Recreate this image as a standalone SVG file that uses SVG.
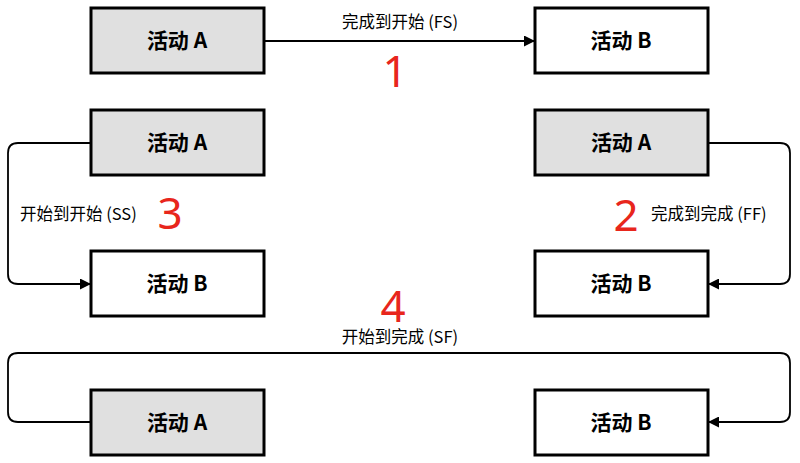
<svg xmlns="http://www.w3.org/2000/svg" width="800" height="463" viewBox="0 0 800 463">
<style>
.a{fill:#e0e0e0;stroke:#000;stroke-width:3}
.b{fill:#fff;stroke:#000;stroke-width:3}
.t{font-family:"Noto Sans CJK SC","Noto Sans",sans-serif;font-size:21px;font-weight:bold;text-anchor:middle}
.l{font-family:"Noto Sans CJK SC","Noto Sans",sans-serif;font-size:16.5px}
.n{font-family:"Noto Sans","Liberation Sans",sans-serif;font-size:44px;fill:#e8261c;text-anchor:middle}
.c{fill:none;stroke:#000;stroke-width:1.8}
</style>
<defs><marker id="m" viewBox="0 0 10 10" refX="10" refY="5" markerWidth="11" markerHeight="11" markerUnits="userSpaceOnUse" orient="auto"><path d="M0,0L10,5L0,10z"/></marker></defs>
<rect width="800" height="463" fill="#fff"/>
<g id="connectors">
<path class="c" d="M264,41H535" marker-end="url(#m)"/>
<path class="c" d="M91,143H18Q8,143 8,153V274Q8,284 18,284H91" marker-end="url(#m)"/>
<path class="c" d="M708,143H780Q790,143 790,153V274Q790,284 780,284H708" marker-end="url(#m)"/>
<path class="c" d="M91,422H18Q8,422 8,412V363Q8,353 18,353H780Q790,353 790,363V412Q790,422 780,422H708" marker-end="url(#m)"/>
</g>
<g id="n1"><rect class="a" x="91" y="8" width="173" height="65"/><text class="t" x="177" y="48">活动 A</text></g>
<g id="n2"><rect class="b" x="535" y="8" width="173" height="65"/><text class="t" x="621" y="48">活动 B</text></g>
<g id="n3"><rect class="a" x="91" y="110" width="173" height="65"/><text class="t" x="177" y="150">活动 A</text></g>
<g id="n4"><rect class="b" x="91" y="251" width="173" height="65"/><text class="t" x="177" y="291">活动 B</text></g>
<g id="n5"><rect class="a" x="535" y="110" width="173" height="65"/><text class="t" x="621" y="150">活动 A</text></g>
<g id="n6"><rect class="b" x="535" y="251" width="173" height="65"/><text class="t" x="621" y="291">活动 B</text></g>
<g id="n7"><rect class="a" x="91" y="390" width="173" height="65"/><text class="t" x="177" y="430">活动 A</text></g>
<g id="n8"><rect class="b" x="535" y="390" width="173" height="65"/><text class="t" x="621" y="430">活动 B</text></g>
<g id="labels">
<text class="l" x="400" y="28" text-anchor="middle">完成到开始 (FS)</text>
<text class="n" x="395" y="87">1</text>
<text class="l" x="20" y="220">开始到开始 (SS)</text>
<text class="n" x="170" y="229">3</text>
<text class="n" x="626" y="231">2</text>
<text class="l" x="651" y="220">完成到完成 (FF)</text>
<text class="n" x="393" y="322">4</text>
<text class="l" x="400" y="343" text-anchor="middle">开始到完成 (SF)</text>
</g>
</svg>
